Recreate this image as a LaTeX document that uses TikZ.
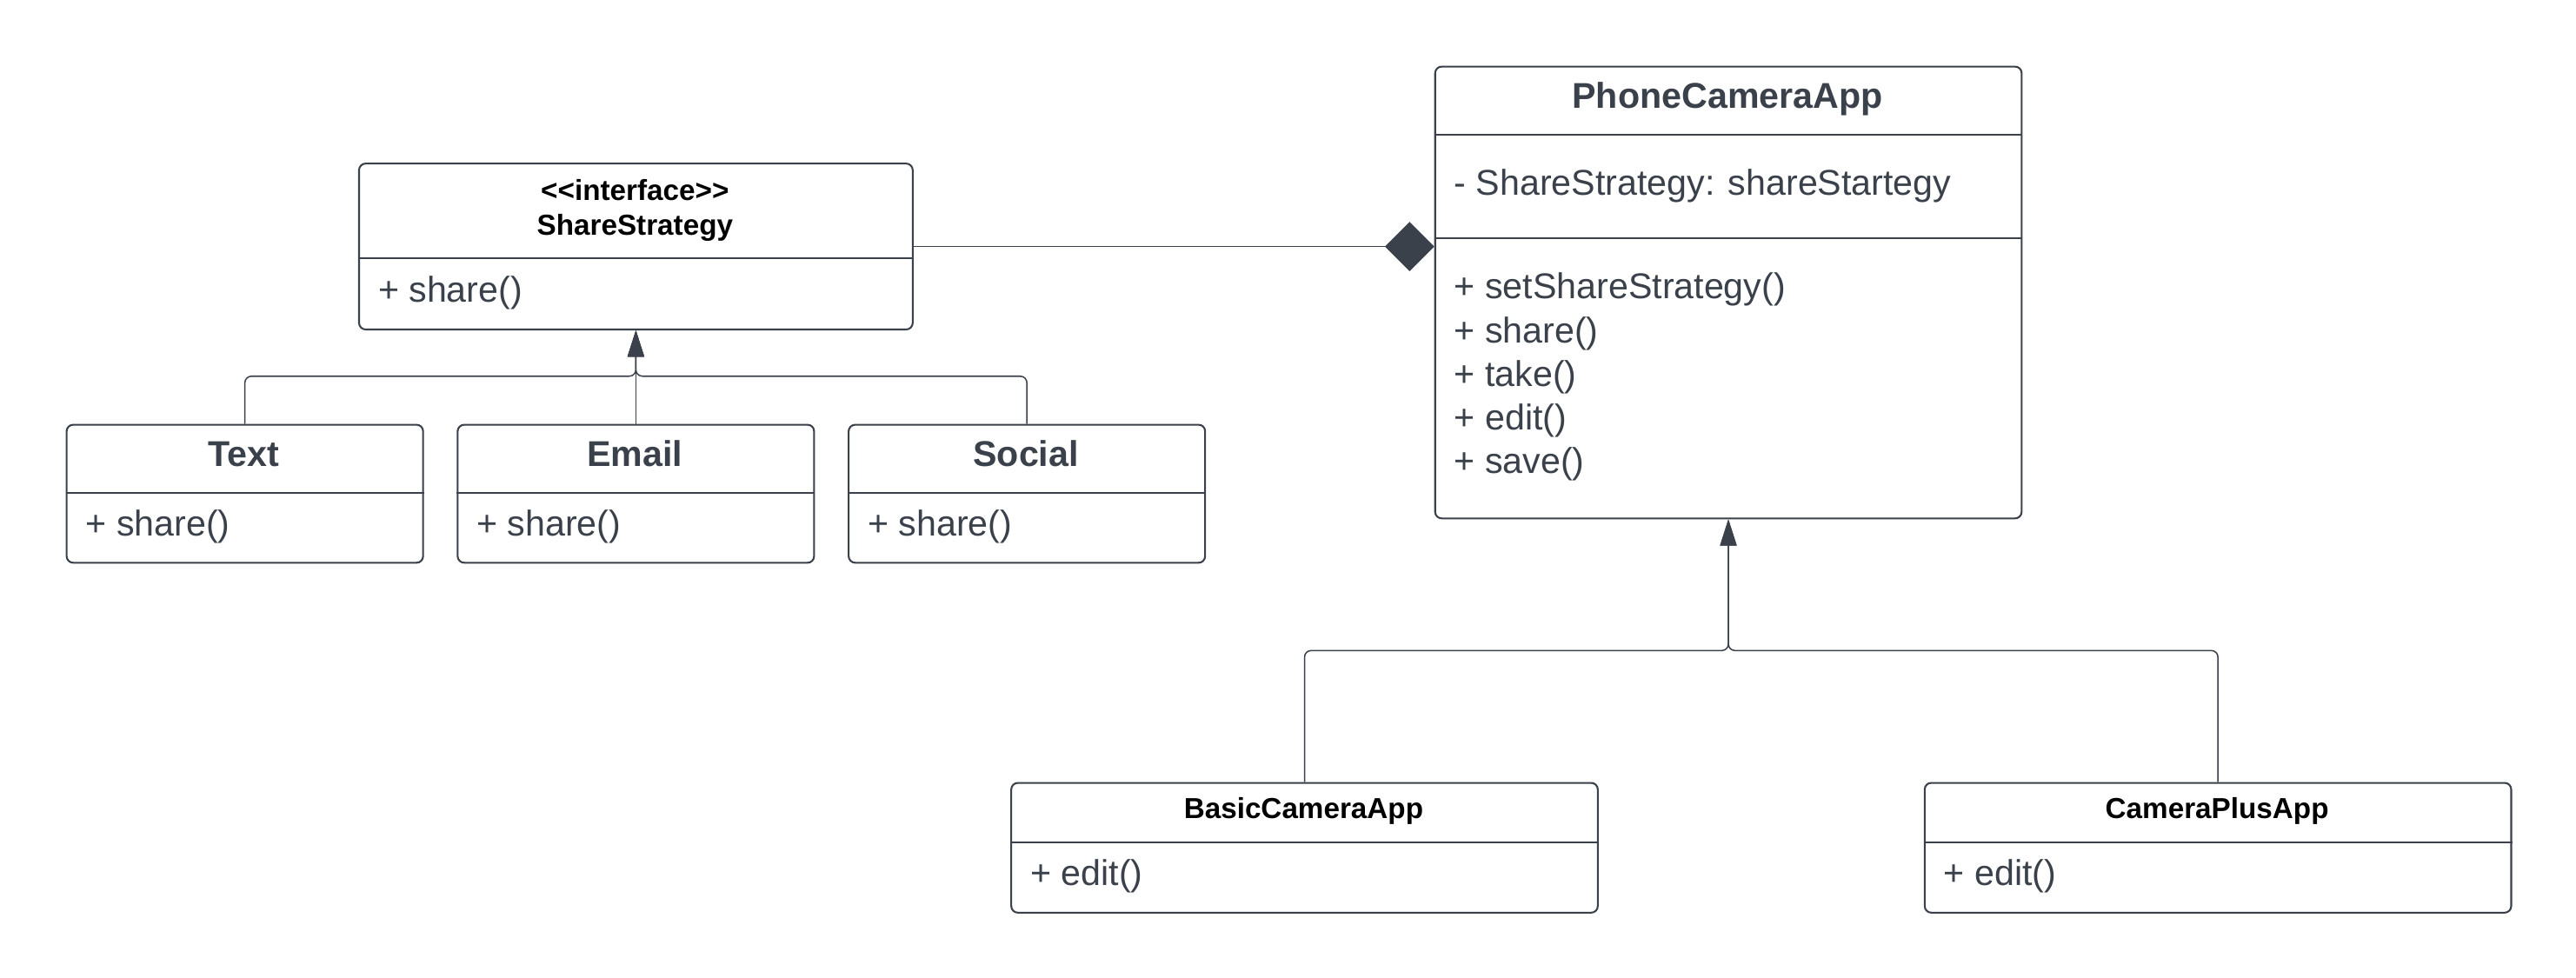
\documentclass[tikz,border=0pt]{standalone}
\usepackage{fontspec}
\setmainfont{Liberation Sans}
\usetikzlibrary{arrows.meta}
\definecolor{ink}{HTML}{3A414A}
\begin{document}
\begin{tikzpicture}[x=1pt,y=-1pt,
  box/.style={draw=ink, line width=1.1pt, rounded corners=4pt, inner sep=0pt, anchor=north west},
  ttl/.style={text=ink, font=\fontsize{21.8}{26}\selectfont\bfseries, inner sep=0pt, anchor=base},
  sttl/.style={text=black, font=\fontsize{17.6}{21}\selectfont\bfseries, inner sep=0pt, anchor=base},
  mem/.style={text=ink, font=\fontsize{21.8}{26}\selectfont, inner sep=0pt, anchor=base west},
  divl/.style={draw=ink, line width=1.1pt},
  inh/.style={draw=ink, line width=0.8pt, rounded corners=4pt, -{Triangle[length=16pt,width=10pt]}},
  comp/.style={draw=ink, line width=0.8pt, -{Diamond[length=30pt,width=30pt]}},
]
\useasboundingbox (0,0) rectangle (1568,595.3);
% ShareStrategy
\node[box, minimum width=337pt, minimum height=101pt] (ss) at (218,99) {};
\draw[divl] (ss.west |- 0,157) -- (ss.east |- 0,157);
\node[sttl] (ssA) at (386.5,122) {{<}{<}interface{>}{>}};
\node[sttl] (ssB) at (386.5,143) {ShareStrategy};
\node[mem] (ssM) at (230,184) {+ share()};
% Text
\node[box, minimum width=217pt, minimum height=84pt] (txt) at (40,258) {};
\draw[divl] (txt.west |- 0,300) -- (txt.east |- 0,300);
\node[ttl] (txtT) at (148.5,284) {Text};
\node[mem] (txtM) at (52,326) {+ share()};
% Email
\node[box, minimum width=217pt, minimum height=84pt] (eml) at (278,258) {};
\draw[divl] (eml.west |- 0,300) -- (eml.east |- 0,300);
\node[ttl] (emlT) at (386.5,284) {Email};
\node[mem] (emlM) at (290,326) {+ share()};
% Social
\node[box, minimum width=217pt, minimum height=84pt] (soc) at (516,258) {};
\draw[divl] (soc.west |- 0,300) -- (soc.east |- 0,300);
\node[ttl] (socT) at (624.5,284) {Social};
\node[mem] (socM) at (528,326) {+ share()};
% PhoneCameraApp
\node[box, minimum width=357pt, minimum height=275pt] (pca) at (873,40) {};
\draw[divl] (pca.west |- 0,82) -- (pca.east |- 0,82);
\draw[divl] (pca.west |- 0,145) -- (pca.east |- 0,145);
\node[ttl] (pcaT) at (1051.5,66) {PhoneCameraApp};
\node[mem] (pcaA) at (885,119) {- ShareStrategy: shareStartegy};
\node[mem] (pcaM1) at (885,182) {+ setShareStrategy()};
\node[mem] (pcaM2) at (885,208.5) {+ share()};
\node[mem] (pcaM3) at (885,235) {+ take()};
\node[mem] (pcaM4) at (885,261.5) {+ edit()};
\node[mem] (pcaM5) at (885,288) {+ save()};
% BasicCameraApp
\node[box, minimum width=357pt, minimum height=79pt] (bca) at (615,476) {};
\draw[divl] (bca.west |- 0,513) -- (bca.east |- 0,513);
\node[sttl] (bcaT) at (793.5,498) {BasicCameraApp};
\node[mem] (bcaM) at (627,539) {+ edit()};
% CameraPlusApp
\node[box, minimum width=357pt, minimum height=79pt] (cpa) at (1171,476) {};
\draw[divl] (cpa.west |- 0,513) -- (cpa.east |- 0,513);
\node[sttl] (cpaT) at (1349.5,498) {CameraPlusApp};
\node[mem] (cpaM) at (1183,539) {+ edit()};
% connectors
\draw[inh] (txt.north) -- ++(0,-29) -| (ss.south);
\draw[inh] (soc.north) -- ++(0,-29) -| (ss.south);
\draw[inh] (eml.north) -- (ss.south);
\draw[inh] (bca.north) -- ++(0,-80) -| (pca.south);
\draw[inh] (cpa.north) -- ++(0,-80) -| (pca.south);
\draw[comp] (ss.east) -- (ss.east -| pca.west);
\end{tikzpicture}
\end{document}
